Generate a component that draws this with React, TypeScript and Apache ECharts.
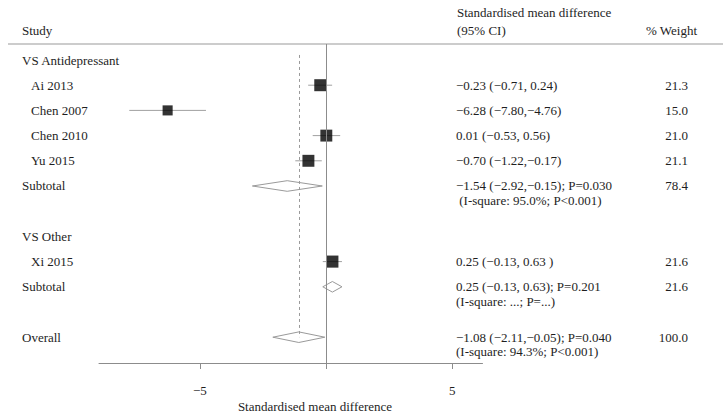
import React, { useEffect, useRef } from "react";
import * as echarts from "echarts";

// ---- data ----
const groupNames = ["VS Antidepressant", "VS Other"];
const groupRows = [0, 7];

const studyNames = ["Ai 2013", "Chen 2007", "Chen 2010", "Yu 2015", "Xi 2015"];
const studyRows = [1, 2, 3, 4, 8];
const studyEst = [-0.23, -6.28, 0.01, -0.7, 0.25];
const studyLo = [-0.71, -7.8, -0.53, -1.22, -0.13];
const studyHi = [0.24, -4.76, 0.56, -0.17, 0.63];
const studyWeight = [21.3, 15.0, 21.0, 21.1, 21.6];
const studyCIText = [
  "\u22120.23 (\u22120.71, 0.24)",
  "\u22126.28 (\u22127.80,\u22124.76)",
  "0.01 (\u22120.53, 0.56)",
  "\u22120.70 (\u22121.22,\u22120.17)",
  "0.25 (\u22120.13, 0.63 )",
];
const studyWeightText = ["21.3", "15.0", "21.0", "21.1", "21.6"];

const pooledNames = ["Subtotal", "Subtotal", "Overall"];
const pooledRows = [5, 9, 11];
const pooledEst = [-1.54, 0.25, -1.08];
const pooledLo = [-2.92, -0.13, -2.11];
const pooledHi = [-0.15, 0.63, -0.05];
const pooledLine1 = [
  "\u22121.54 (\u22122.92,\u22120.15); P=0.030",
  "0.25 (\u22120.13, 0.63); P=0.201",
  "\u22121.08 (\u22122.11,\u22120.05); P=0.040",
];
const pooledLine2 = [
  " (I-square: 95.0%; P<0.001)",
  "(I-square: ...; P=...)",
  "(I-square: 94.3%; P<0.001)",
];
const pooledWeightText = ["78.4", "21.6", "100.0"];

const xTickValues = [-5, 0, 5];
const xLabelValues = [-5, 5];
const headerLabels = ["Study", "Standardised mean difference", "(95% CI)", "% Weight"];
const axisTitle = "Standardised mean difference";

// ---- layout / style ----
const FONT = '"Liberation Serif", "Times New Roman", serif';
const TXT = "#1e1e1e";
const LINE = "#8c8c8c";
const X_LABEL = 22;
const X_INDENT = 31;
const X_CI = 456;
const X_WEIGHT = 688;

function textEl(text: string, x: number, y: number, align = "left") {
  return {
    type: "text",
    x,
    y,
    style: {
      text,
      fill: TXT,
      fontSize: 13,
      fontFamily: FONT,
      align,
      verticalAlign: "middle",
    },
  };
}

export default function App() {
  const ref = useRef<HTMLDivElement>(null);
  useEffect(() => {
    if (!ref.current) return;
    const chart = echarts.init(ref.current, null, { renderer: "svg" });

    const labelData: any[] = [];
    groupNames.forEach((n, i) => labelData.push({ value: [0, groupRows[i]], name: n, indent: false }));
    studyNames.forEach((n, i) => labelData.push({ value: [0, studyRows[i]], name: n, indent: true }));
    pooledNames.forEach((n, i) => labelData.push({ value: [0, pooledRows[i]], name: n, indent: false }));

    const rightData: any[] = [];
    studyNames.forEach((n, i) =>
      rightData.push({ value: [0, studyRows[i]], l1: studyCIText[i], l2: "", w: studyWeightText[i] })
    );
    pooledNames.forEach((n, i) =>
      rightData.push({ value: [0, pooledRows[i]], l1: pooledLine1[i], l2: pooledLine2[i], w: pooledWeightText[i] })
    );

    const option: any = {
      animation: false,
      grid: { left: 99, right: 242.5, top: 44, bottom: 54 },
      xAxis: {
        type: "value",
        min: -9,
        max: 6.2,
        splitLine: { show: false },
        axisLine: { show: true, onZero: false, lineStyle: { color: LINE, width: 1 } },
        axisTick: { show: true, customValues: xTickValues, length: 6, lineStyle: { color: LINE } },
        axisLabel: {
          customValues: xLabelValues,
          margin: 21,
          color: TXT,
          fontSize: 13,
          fontFamily: FONT,
          formatter: (v: number) => (v < 0 ? "\u2212" + Math.abs(v) : String(v)),
        },
      },
      yAxis: {
        type: "value",
        inverse: true,
        min: -0.635,
        max: 12.024,
        show: false,
      },
      graphic: [
        { type: "line", shape: { x1: 8, y1: 44, x2: 723, y2: 44 }, style: { stroke: "#9a9a9a", lineWidth: 1.2 } },
        textEl(headerLabels[0], X_LABEL, 30),
        textEl(headerLabels[1], X_CI + 1, 12),
        textEl(headerLabels[2], X_CI + 1, 30),
        textEl(headerLabels[3], 697, 30, "right"),
        textEl(axisTitle, 315, 406, "center"),
      ],
      series: [
        {
          type: "custom",
          name: "ci",
          silent: true,
          data: studyNames.map((_, i) => [studyLo[i], studyHi[i], studyRows[i]]),
          renderItem: (params: any, api: any) => {
            const a = api.coord([api.value(0), api.value(2)]);
            const b = api.coord([api.value(1), api.value(2)]);
            return {
              type: "line",
              shape: { x1: a[0], y1: a[1], x2: b[0], y2: b[1] },
              style: { stroke: "#a0a0a0", lineWidth: 1 },
            };
          },
          z: 2,
        },
        {
          type: "scatter",
          name: "est",
          silent: true,
          symbol: "rect",
          data: studyNames.map((_, i) => [studyEst[i], studyRows[i], studyWeight[i]]),
          symbolSize: (v: number[]) => 2.6 * Math.sqrt(v[2]),
          itemStyle: { color: "#000" },
          z: 3,
          markLine: {
            silent: true,
            symbol: "none",
            label: { show: false },
            data: [
              [
                { coord: [0, -0.635] },
                { coord: [0, 12.024] },
              ],
              [
                { coord: [pooledEst[2], -0.2], lineStyle: { type: [3, 3], color: "#9a9a9a", width: 1 } },
                { coord: [pooledEst[2], pooledRows[2]] },
              ],
            ],
            lineStyle: { color: LINE, width: 1, type: "solid" },
          },
        },
        {
          type: "custom",
          name: "diamond",
          silent: true,
          data: pooledNames.map((_, i) => [pooledLo[i], pooledEst[i], pooledHi[i], pooledRows[i]]),
          renderItem: (params: any, api: any) => {
            const r = api.value(3);
            const lo = api.coord([api.value(0), r]);
            const m = api.coord([api.value(1), r]);
            const hi = api.coord([api.value(2), r]);
            const h = 5.3;
            return {
              type: "polygon",
              shape: { points: [[lo[0], lo[1]], [m[0], m[1] - h], [hi[0], hi[1]], [m[0], m[1] + h]] },
              style: { fill: "#fff", stroke: "#9a9a9a", lineWidth: 1 },
            };
          },
          z: 4,
        },
        {
          type: "custom",
          name: "leftText",
          silent: true,
          clip: false,
          data: labelData,
          renderItem: (params: any, api: any) => {
            const d = labelData[params.dataIndex];
            const p = api.coord([0, api.value(1)]);
            return textEl(d.name, d.indent ? X_INDENT : X_LABEL, p[1]);
          },
          z: 5,
        },
        {
          type: "custom",
          name: "rightText",
          silent: true,
          clip: false,
          data: rightData,
          renderItem: (params: any, api: any) => {
            const d = rightData[params.dataIndex];
            const p = api.coord([0, api.value(1)]);
            const children: any[] = [textEl(d.l1, X_CI, p[1]), textEl(d.w, X_WEIGHT, p[1], "right")];
            if (d.l2) children.push(textEl(d.l2, X_CI, p[1] + 14.5));
            return { type: "group", children };
          },
          z: 5,
        },
      ],
    };
    chart.setOption(option);
    return () => chart.dispose();
  }, []);
  return <div ref={ref} style={{ width: 725, height: 417, position: "absolute", left: 0, top: 0 }} />;
}
